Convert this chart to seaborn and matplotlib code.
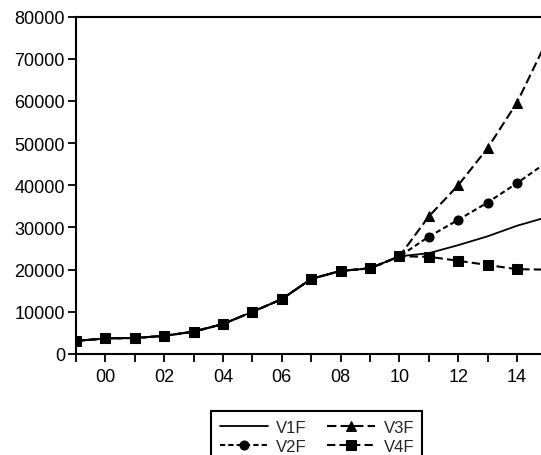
import matplotlib
matplotlib.use("Agg")
import matplotlib.pyplot as plt
import seaborn as sns
import pandas as pd

years = [1999, 2000, 2001, 2002, 2003, 2004, 2005, 2006, 2007, 2008,
         2009, 2010, 2011, 2012, 2013, 2014, 2015]
v1f = [3100, 3700, 3800, 4300, 5300, 7100, 10000, 13000, 17800, 19700,
       20300, 23150, 23900, 25800, 27900, 30400, 32400]
v2f = [3100, 3700, 3800, 4300, 5300, 7100, 10000, 13000, 17800, 19700,
       20300, 23150, 27800, 31800, 35900, 40500, 45400]
v3f = [3100, 3700, 3800, 4300, 5300, 7100, 10000, 13000, 17800, 19700,
       20300, 23150, 32600, 40000, 48800, 59600, 74000]
v4f = [3100, 3700, 3800, 4300, 5300, 7100, 10000, 13000, 17800, 19700,
       20300, 23150, 23050, 22100, 21100, 20100, 20000]
y_ticks = [0, 10000, 20000, 30000, 40000, 50000, 60000, 70000, 80000]
x_label_years = [2000, 2002, 2004, 2006, 2008, 2010, 2012, 2014]

sns.set_style("white")
plt.rcParams["font.family"] = ["Liberation Sans", "DejaVu Sans"]

W, H = 541, 456
fig = plt.figure(figsize=(W / 100, H / 100), dpi=100)
ax = fig.add_axes([76 / W, 101 / H, 470.4 / W, 337.5 / H])

df = pd.DataFrame({"year": years, "V1F": v1f, "V2F": v2f, "V3F": v3f, "V4F": v4f})

styles = {
    "V1F": dict(marker=None, linestyle="-", lw=1.3),
    "V2F": dict(marker="o", markersize=6.5, linestyle=(0, (2.5, 1.5)), lw=1.5),
    "V3F": dict(marker="^", markersize=6.5, linestyle=(0, (4.5, 2)), lw=1.5),
    "V4F": dict(marker="s", markersize=7.2, linestyle=(0, (4, 2)), lw=1.5),
}
for name, st in styles.items():
    sns.lineplot(data=df, x="year", y=name, ax=ax, color="black", label=name,
                 marker=st["marker"], markersize=st.get("markersize", 0),
                 linestyle=st["linestyle"], linewidth=st["lw"],
                 markeredgecolor="black", markerfacecolor="black")

ax.set_xlim(1999, 2015)
ax.set_ylim(0, 80000)
ax.set_xlabel("")
ax.set_ylabel("")

ax.set_yticks(y_ticks)
ax.set_yticklabels([str(v) for v in y_ticks])
ax.set_xticks(x_label_years)
ax.set_xticklabels([f"{y % 100:02d}" for y in x_label_years])
ax.set_xticks([y for y in years if y not in x_label_years], minor=True)

ax.tick_params(axis="both", which="both", direction="out", length=6, width=1.3,
               color="black", labelsize=13, labelcolor="black")
ax.tick_params(axis="x", which="major", pad=4)
ax.tick_params(axis="y", which="major", pad=2)
ax.tick_params(left=True, bottom=True, top=False, right=False)
ax.tick_params(axis="x", which="minor", bottom=True)

for s in ["left", "top", "bottom", "right"]:
    ax.spines[s].set_visible(True)
    ax.spines[s].set_color("black")
    ax.spines[s].set_linewidth(1.5)
ax.grid(False)

handles, labels = ax.get_legend_handles_labels()
ax.get_legend().remove()
leg = fig.legend(handles, labels, ncol=2, loc="upper left",
                 bbox_to_anchor=(203 / W, 1 - 404 / H),
                 fontsize=12, frameon=True, fancybox=False, shadow=False,
                 edgecolor="black", framealpha=1, handlelength=2.9,
                 handletextpad=0.5, columnspacing=1.2, borderpad=0.5,
                 labelspacing=0.25)
leg.get_frame().set_linewidth(1.5)

fig.savefig("out.png", dpi=100)
